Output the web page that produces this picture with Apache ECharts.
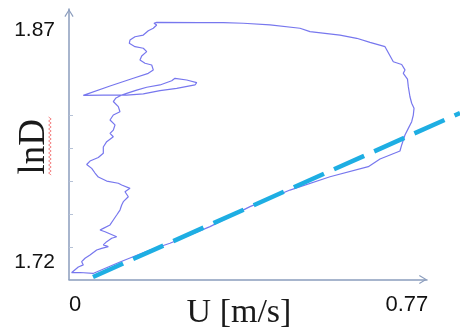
<!DOCTYPE html>
<html>
<head>
<meta charset="utf-8">
<script src="https://cdn.jsdelivr.net/npm/echarts@6/dist/echarts.min.js"></script>
<style>
  html, body { margin: 0; padding: 0; background: #ffffff; }
  #chart { width: 460px; height: 336px; }
</style>
</head>
<body>
<div id="chart"></div>
<script>
// Measured loop: flow speed U against lnD
const uValues = [
  0.0057,0.0098,0.0212,0.0326,0.0289,0.0365,0.0479,0.0631,0.0745,0.0896,
  0.0782,0.0859,0.0973,0.1087,0.1048,0.0821,0.0707,0.0782,0.0935,0.1010,
  0.1087,0.1162,0.1201,0.1238,0.1201,0.1352,0.1276,0.1390,0.1201,0.1124,
  0.0859,0.0668,0.0593,0.0517,0.0403,0.0479,0.0668,0.0782,0.0782,0.0859,
  0.1010,0.0935,0.1010,0.1048,0.0935,0.1010,0.1162,0.1124,0.1010,0.1071,
  0.1201,
  0.1315,0.1543,0.1771,0.2074,0.2341,0.2416,0.2683,0.2911,0.2872,0.2455,
  0.2074,0.1694,0.1315,0.0782,0.0326,
  0.0935,0.1466,0.1807,0.1921,0.1885,0.1732,0.1618,0.1657,0.1771,0.1694,
  0.1504,0.1374,0.1390,0.1504,0.1694,0.1807,0.1921,0.1999,0.1937,0.1999,
  0.2986,0.3517,0.3973,0.4581,0.5265,0.5493,0.6177,0.6558,0.6861,0.7203,
  0.7392,0.7583,0.7658,0.7620,0.7715,0.7734,0.7772,0.7811,0.7864,0.7848,
  0.7811,0.7734,0.7658,0.7583,0.7544,
  0.7317,0.7089,0.6822,0.5949,0.5037,0.4126,0.3214,0.2302,0.1846,0.1162,
  0.0547,0.0251,0.0057
];
const lnDValues = [
  1.7134,1.7142,1.7171,1.7184,1.7205,1.7227,1.7248,1.7280,1.7291,1.7302,
  1.7313,1.7334,1.7356,1.7366,1.7377,1.7398,1.7409,1.7420,1.7442,1.7474,
  1.7506,1.7538,1.7571,1.7592,1.7603,1.7624,1.7656,1.7678,1.7700,1.7711,
  1.7725,1.7751,1.7777,1.7807,1.7832,1.7854,1.7877,1.7904,1.7945,1.7979,
  1.8011,1.8033,1.8054,1.8087,1.8119,1.8151,1.8172,1.8205,1.8238,1.8261,
  1.8280,
  1.8291,1.8312,1.8330,1.8345,1.8372,1.8388,1.8377,1.8360,1.8345,1.8323,
  1.8308,1.8287,1.8280,1.8280,1.8278,
  1.8338,1.8388,1.8420,1.8442,1.8474,1.8485,1.8506,1.8532,1.8560,1.8582,
  1.8592,1.8614,1.8635,1.8656,1.8667,1.8695,1.8711,1.8732,1.8743,1.8749,
  1.8747,1.8747,1.8743,1.8732,1.8711,1.8689,1.8667,1.8646,1.8620,1.8592,
  1.8495,1.8477,1.8442,1.8420,1.8383,1.8334,1.8269,1.8227,1.8194,1.8151,
  1.8108,1.8065,1.8022,1.7958,1.7919,
  1.7893,1.7867,1.7818,1.7753,1.7667,1.7560,1.7431,1.7324,1.7280,1.7203,
  1.7129,1.7135,1.7134
];

// Straight trend line (two end points); it runs on past the arrow of the U axis
const trendU = [0.0547, 0.8912];
const trendLnD = [1.7106, 1.8164];

// Axis ranges, tick marks and labels
const uMin = 0, uMax = 0.816;
const lnDMin = 1.709, lnDMax = 1.8835;
const uTickLabels = [0, 0.77];
const lnDTickLabels = [1.72, 1.87];
const lnDTickMarks = [1.7300, 1.7513, 1.7725, 1.7938, 1.8151];

const loopData = uValues.map((u, i) => [u, lnDValues[i]]);
const trendData = trendU.map((u, i) => [u, trendLnD[i]]);

// plot box: the U axis ends at 427px, the page at 460px
const plotLeft = 69, plotTop = 9, plotBottom = 56.5, axisRight = 33;
const pageWidth = 460;
const axisLen = pageWidth - plotLeft - axisRight;
// a wider twin of the U scale (same px per unit) lets the trend line reach the page edge
const uMaxWide = uMax * (pageWidth - plotLeft) / axisLen;

const axisColor = '#8b9dbd';
const arrowHead = 'path://M0,8 L5,0 L10,8 L8.9,8.7 L5,2.2 L1.1,8.7 Z';

const chart = echarts.init(document.getElementById('chart'), null, { renderer: 'canvas' });

// red wavy underline beside the vertical axis title
const wavePts = [];
for (let k = 0; k <= 29; k++) {
  wavePts.push([k % 2 === 0 ? 48.6 : 51.2, 117 + k * 2]);
}

chart.setOption({
  animation: false,
  backgroundColor: '#ffffff',
  grid: [
    { left: plotLeft, top: plotTop, right: axisRight, bottom: plotBottom, containLabel: false, outerBoundsMode: 'none' },
    { left: plotLeft, top: plotTop, right: 0, bottom: plotBottom, containLabel: false, outerBoundsMode: 'none' }
  ],
  xAxis: [{
    type: 'value',
    gridIndex: 0,
    min: uMin,
    max: uMax,
    name: 'U [m/s]',
    nameLocation: 'middle',
    nameGap: 17,
    nameMoveOverlap: false,
    nameTextStyle: {
      fontFamily: 'Liberation Serif',
      fontSize: 34,
      color: '#1a1a1a',
      padding: [0, 18, 0, 0]
    },
    axisLine: {
      show: true,
      symbol: ['none', arrowHead],
      symbolSize: [10, 8],
      symbolOffset: [0, -4],
      lineStyle: { color: axisColor, width: 1.5 }
    },
    axisTick: { show: false },
    splitLine: { show: false },
    axisLabel: {
      customValues: uTickLabels,
      margin: 14,
      fontFamily: 'Liberation Sans',
      fontSize: 22,
      color: '#111111',
      formatter: function (v) {
        return v === 0 ? '{z|0}' : String(v);
      },
      rich: {
        z: { fontFamily: 'Liberation Sans', fontSize: 22, color: '#111111', padding: [0, 0, 0, 12] }
      }
    }
  }, {
    type: 'value',
    gridIndex: 1,
    min: uMin,
    max: uMaxWide,
    show: false
  }],
  yAxis: [{
    type: 'value',
    gridIndex: 0,
    min: lnDMin,
    max: lnDMax,
    name: 'lnD',
    nameLocation: 'middle',
    nameRotate: 90,
    nameGap: 16,
    nameMoveOverlap: false,
    nameTextStyle: {
      fontFamily: 'Liberation Serif',
      fontSize: 37,
      color: '#1a1a1a',
      padding: [0, 5, 0, 0]
    },
    axisLine: {
      show: true,
      symbol: ['none', arrowHead],
      symbolSize: [10, 8],
      symbolOffset: [0, -4],
      lineStyle: { color: axisColor, width: 1.5 }
    },
    axisTick: {
      show: true,
      inside: true,
      length: 4,
      customValues: lnDTickMarks,
      lineStyle: { color: '#b6c2d6', width: 1 }
    },
    splitLine: { show: false },
    axisLabel: {
      customValues: lnDTickLabels,
      margin: 14,
      fontFamily: 'Liberation Sans',
      fontSize: 21,
      color: '#111111'
    }
  }, {
    type: 'value',
    gridIndex: 1,
    min: lnDMin,
    max: lnDMax,
    show: false
  }],
  graphic: [{
    type: 'polyline',
    shape: { points: wavePts },
    style: { stroke: '#f06a6a', lineWidth: 1, fill: null, opacity: 0.8 },
    silent: true
  }],
  series: [
    {
      type: 'line',
      xAxisIndex: 0,
      yAxisIndex: 0,
      data: loopData,
      showSymbol: false,
      symbol: 'none',
      smooth: false,
      clip: false,
      lineStyle: { color: '#7777ee', width: 1.2 },
      z: 3
    },
    {
      type: 'line',
      xAxisIndex: 1,
      yAxisIndex: 1,
      data: trendData,
      showSymbol: false,
      symbol: 'none',
      clip: false,
      lineStyle: { color: '#1eaee3', width: 4.5, type: [33, 11], cap: 'butt' },
      z: 4
    }
  ]
});
</script>
</body>
</html>
